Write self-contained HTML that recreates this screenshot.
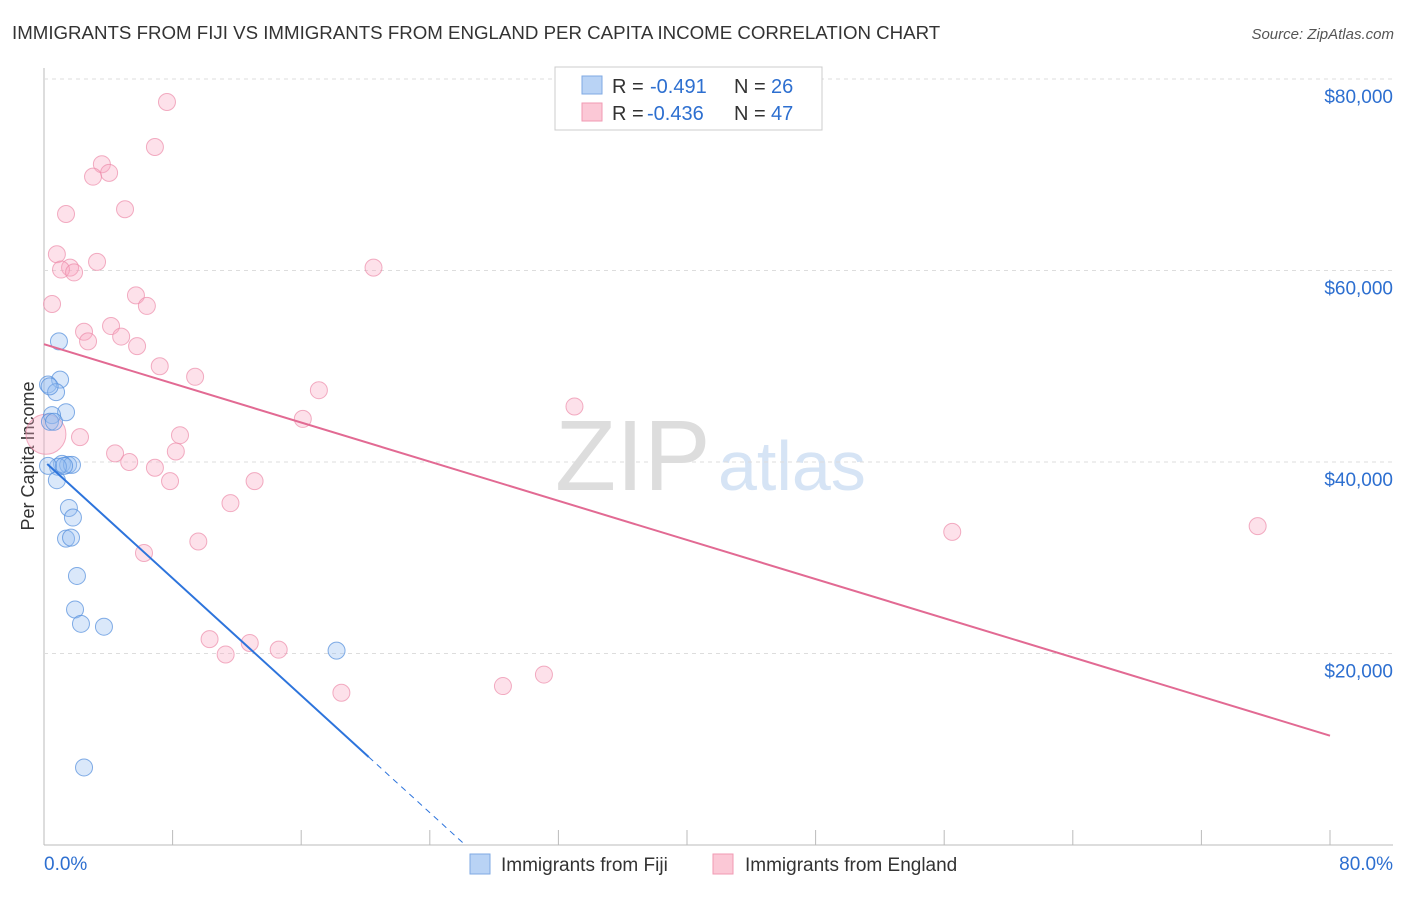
<!DOCTYPE html>
<html><head><meta charset="utf-8"><style>
body{margin:0;background:#fff;font-family:"Liberation Sans",sans-serif}
svg text{font-family:"Liberation Sans",sans-serif}
</style></head><body>
<svg id="c" width="1406" height="892" xmlns="http://www.w3.org/2000/svg">
<text x="12" y="39" font-size="18.7" fill="#333">IMMIGRANTS FROM FIJI VS IMMIGRANTS FROM ENGLAND PER CAPITA INCOME CORRELATION CHART</text>
<text x="1394" y="39" font-size="15" fill="#555" font-style="italic" text-anchor="end">Source: ZipAtlas.com</text>
<text x="555" y="490" font-size="100" fill="#ddd" font-family="Liberation Serif">ZIP</text>
<text x="718" y="490" font-size="70" fill="#d6e4f5">atlas</text>
<text x="34" y="456" font-size="18" fill="#333" text-anchor="middle" transform="rotate(-90 34 456)">Per Capita Income</text>
<g id="grid"></g><g id="marks"></g>
<g>
<rect x="555" y="67" width="267" height="63" fill="#fff" stroke="#ccc"/>
<rect x="582" y="76" width="20" height="18" fill="#b9d3f5" stroke="#7fa9e3"/>
<text x="612" y="93" font-size="20" fill="#333">R =</text>
<text x="650" y="93" font-size="20" fill="#2d6fd0">-0.491</text>
<text x="734" y="93" font-size="20" fill="#333">N =</text>
<text x="771" y="93" font-size="20" fill="#2d6fd0">26</text>
<rect x="582" y="103" width="20" height="18" fill="#fbc8d6" stroke="#f09ab3"/>
<text x="612" y="120" font-size="20" fill="#333">R =</text>
<text x="647" y="120" font-size="20" fill="#2d6fd0">-0.436</text>
<text x="734" y="120" font-size="20" fill="#333">N =</text>
<text x="771" y="120" font-size="20" fill="#2d6fd0">47</text>
</g>
<g>
<rect x="470" y="854" width="20" height="20" fill="#b9d3f5" stroke="#7fa9e3"/>
<text x="501" y="871" font-size="19" fill="#333">Immigrants from Fiji</text>
<rect x="713" y="854" width="20" height="20" fill="#fbc8d6" stroke="#f09ab3"/>
<text x="745" y="871" font-size="19" fill="#333">Immigrants from England</text>
</g>
<text x="44" y="870" font-size="19" fill="#2d6fd0">0.0%</text>
<text x="1393" y="870" font-size="19" fill="#2d6fd0" text-anchor="end">80.0%</text>
</svg>
<script>
const yTicks=[20000,40000,60000,80000];
const yTickLabels=["$20,000","$40,000","$60,000","$80,000"];
const xTicks=[0,8,16,24,32,40,48,56,64,72,80];
const fijiX=[0.93,1.0,0.25,0.75,1.37,0.5,0.37,1.12,1.5,1.74,0.87,0.8,1.55,1.8,1.37,1.68,2.05,1.93,2.3,3.73,18.2,2.49,0.25,0.62,1.25,0.35];
const fijiY=[52.6,48.6,48.1,47.3,45.2,44.9,44.2,39.8,39.7,39.7,39.5,38.1,35.2,34.2,32.0,32.1,28.1,24.6,23.1,22.8,20.3,8.1,39.6,44.2,39.6,47.9];
const engX=[7.65,6.9,3.6,4.05,3.05,1.37,5.04,0.8,3.3,1.62,1.06,1.87,20.5,0.5,5.72,6.4,2.49,4.17,2.74,4.8,5.79,7.2,9.4,17.1,33.0,16.1,0.12,2.24,8.46,8.2,4.42,5.3,6.9,7.84,13.1,11.6,56.5,75.5,6.22,9.6,10.3,12.8,11.3,14.6,18.5,28.55,31.1];
const engY=[77.6,72.9,71.1,70.2,69.8,65.9,66.4,61.7,60.9,60.3,60.1,59.8,60.3,56.5,57.4,56.3,53.6,54.2,52.6,53.1,52.1,50.0,48.9,47.5,45.8,44.5,42.9,42.6,42.8,41.1,40.9,40.0,39.4,38.0,38.0,35.7,32.7,33.3,30.5,31.7,21.5,21.1,19.9,20.4,15.9,16.6,17.8];
const fijiTrend=[40.1,-1.53,0.2,20.2,26.2];
const engTrend=[52.3,-0.511,0,80];
const NS="http://www.w3.org/2000/svg";
const X=p=>44+p*16.075, Y=v=>845-v*9.575;
const grid=document.getElementById('grid'), marks=document.getElementById('marks');
function mk(tag,attrs,parent){const e=document.createElementNS(NS,tag);for(const k in attrs)e.setAttribute(k,attrs[k]);parent.appendChild(e);return e;}
let ax=mk('line',{x1:44,y1:68,x2:44,y2:845,stroke:'#bbb'},grid);


let bx=mk('line',{x1:44,y1:845,x2:1393,y2:845,stroke:'#bbb'},grid);


yTicks.forEach((t,i)=>{
 const g=mk('line',{x1:44,x2:1393,y1:Y(t/1000),y2:Y(t/1000),stroke:'#ddd','stroke-dasharray':'4,4'},grid);
 
 
 const l=mk('text',{x:1393,y:Y(t/1000)+24,'font-size':19,fill:'#2d6fd0','text-anchor':'end'},grid);
 l.textContent=yTickLabels[i];
 
 
});
xTicks.forEach(t=>{
 const l=mk('line',{x1:X(t),x2:X(t),y1:830,y2:845,stroke:'#bbb'},grid);
 
 
});
engX.forEach((x,i)=>{
 const c=mk('circle',{cx:X(x),cy:Y(engY[i]),r:i==26?20:8.5,fill:'rgba(248,170,195,0.35)',stroke:'rgba(236,140,170,0.7)'},marks);
 
 
});
fijiX.forEach((x,i)=>{
 const c=mk('circle',{cx:X(x),cy:Y(fijiY[i]),r:8.5,fill:'rgba(150,190,240,0.35)',stroke:'rgba(80,140,220,0.7)'},marks);
 
 
});
const fy=p=>fijiTrend[0]+fijiTrend[1]*p, ey=p=>engTrend[0]+engTrend[1]*p;
let t1=mk('line',{x1:X(fijiTrend[2]),y1:Y(fy(fijiTrend[2])),x2:X(fijiTrend[3]),y2:Y(fy(fijiTrend[3])),stroke:'#2d74dc','stroke-width':2},marks);


let t2=mk('line',{x1:X(fijiTrend[3]),y1:Y(fy(fijiTrend[3])),x2:X(fijiTrend[4]),y2:Y(Math.max(0,fy(fijiTrend[4]))),stroke:'#2d74dc','stroke-width':1,'stroke-dasharray':'6,5'},marks);


let t3=mk('line',{x1:X(engTrend[2]),y1:Y(ey(engTrend[2])),x2:X(engTrend[3]),y2:Y(ey(engTrend[3])),stroke:'#e26a93','stroke-width':2},marks);


</script>
</body></html>
